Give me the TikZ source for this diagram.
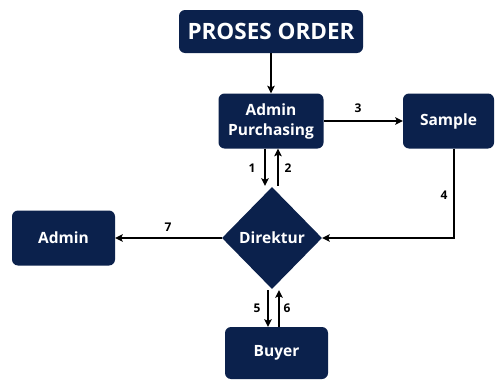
\documentclass[tikz,border=0pt]{standalone}
\usepackage{fontspec}
\setmainfont{Open Sans}
\usetikzlibrary{shapes.geometric,arrows.meta,calc}
\definecolor{navy}{RGB}{11,33,76}
\begin{document}
\begin{tikzpicture}[x=1pt,y=1pt,
  box/.style={fill=navy,rounded corners=6pt,text=white,font=\bfseries\fontsize{15.5}{20}\selectfont,align=center,inner sep=0pt},
  dia/.style={diamond,fill=navy,text=white,font=\bfseries\fontsize{15.5}{17}\selectfont,inner sep=0pt,minimum width=100pt,minimum height=102pt},
  arr/.style={line width=1.9pt,-{Stealth[length=7.5pt,width=7.5pt,inset=1.5pt]}},
  lbl/.style={font=\bfseries\fontsize{12}{14}\selectfont,inner sep=0pt}]
\useasboundingbox (0,0) rectangle (496,-380);
\fill[white] (0,0) rectangle (496,-380);
\node[box,minimum width=184pt,minimum height=43pt,font=\bfseries\fontsize{22.5}{24}\selectfont] (po) at (271,-31.5) {PROSES ORDER};
\node[box,minimum width=105pt,minimum height=55pt] (ap) at (271,-121) {Admin\\Purchasing};
\node[box,minimum width=91pt,minimum height=55pt] (sample) at (448.5,-121) {Sample};
\node[dia] (dir) at (272,-238) {Direktur};
\node[box,minimum width=103pt,minimum height=55pt] (admin) at (63.5,-238) {Admin};
\node[box,minimum width=103pt,minimum height=52pt] (buyer) at (276.5,-353) {Buyer};
\draw[arr] (po.south) -- (ap.north);
\draw[arr] (ap.east) -- (sample.west);
\draw[arr] ([xshift=5.5pt]sample.south) |- (dir.east);
\draw[arr] (dir.west) -- (admin.east);
\draw[arr] ([xshift=-6pt]ap.south) -- ([xshift=-7pt,yshift=1pt]dir.north);
\draw[arr] ([xshift=6pt,yshift=1pt]dir.north) -- ([xshift=7pt]ap.south);
\draw[arr] ([xshift=-4pt,yshift=-1pt]dir.south) -- ([xshift=-4pt]dir.south |- buyer.north);
\draw[arr] ([xshift=7pt]dir.south |- buyer.north) -- ([xshift=7pt,yshift=-1pt]dir.south);
\node[lbl] (l1) at (252,-168) {1};
\node[lbl] (l2) at (288,-168) {2};
\node[lbl] (l3) at (358,-108) {3};
\node[lbl] (l4) at (444,-195) {4};
\node[lbl] (l5) at (257,-308) {5};
\node[lbl] (l6) at (287,-308) {6};
\node[lbl] (l7) at (168,-227) {7};
\end{tikzpicture}
\end{document}
